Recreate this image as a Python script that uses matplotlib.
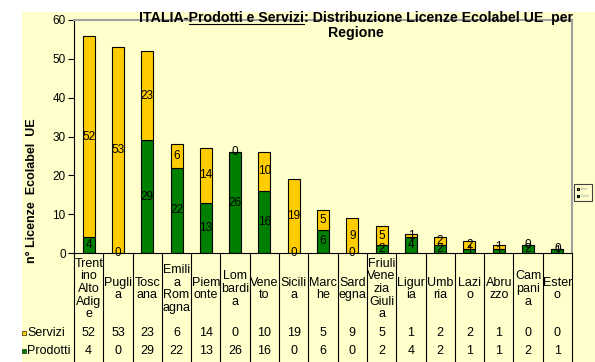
import matplotlib.pyplot as plt
from matplotlib.patches import Rectangle
from matplotlib.lines import Line2D
import numpy as np

# dati
regioni = ["Trent\nino\nAlto\nAdig\ne", "Pugli\na", "Tosc\nana", "Emili\na\nRom\nagna",
           "Piem\nonte", "Lom\nbardi\na", "Vene\nto", "Sicili\na", "Marc\nhe",
           "Sard\negna", "Friuli\nVene\nzia\nGiuli\na", "Ligur\nia", "Umb\nria",
           "Lazi\no", "Abru\nzzo", "Cam\npani\na", "Ester\no"]
servizi = [52, 53, 23, 6, 14, 0, 10, 19, 5, 9, 5, 1, 2, 2, 1, 0, 0]
prodotti = [4, 0, 29, 22, 13, 26, 16, 0, 6, 0, 2, 4, 2, 1, 1, 2, 1]
y_ticks = [0, 10, 20, 30, 40, 50, 60]

GIALLO = '#FFCC00'
VERDE = '#008000'
SFONDO = '#FFFFCC'
GRIGIO = '#A0A0A0'

plt.rcParams["font.family"] = ["Liberation Sans", "DejaVu Sans"]

W, H = 595, 362
fig = plt.figure(figsize=(W / 100, H / 100), dpi=100)
fig.patch.set_facecolor('white')

def fx(px):
    return px / W

def fy(py):
    return 1 - py / H

# area gialla del grafico
fig.patches.append(Rectangle((fx(22), 0), 1 - fx(22), fy(12), transform=fig.transFigure,
                             facecolor=SFONDO, edgecolor='none', zorder=-10))

# grafico a barre
ax = fig.add_axes([fx(74), fy(253), fx(572) - fx(74), fy(20) - fy(253)])
ax.set_facecolor(SFONDO)
x = np.arange(len(regioni))
b_prod = ax.bar(x, prodotti, width=0.41, color=VERDE, edgecolor='black', linewidth=0.8,
                label='Prodotti', zorder=2)
b_serv = ax.bar(x, servizi, bottom=prodotti, width=0.41, color=GIALLO, edgecolor='black',
                linewidth=0.8, label='Servizi', zorder=2)

for i in range(len(regioni)):
    ax.text(i, prodotti[i] / 2, str(prodotti[i]), ha='center', va='center', fontsize=8.5, zorder=3)
    ax.text(i, prodotti[i] + servizi[i] / 2, str(servizi[i]), ha='center', va='center',
            fontsize=8.5, zorder=3)

ax.set_xlim(-0.5, len(regioni) - 0.5)
ax.set_ylim(0, 60)
ax.set_yticks(y_ticks)
ax.set_xticks([])
ax.tick_params(axis='y', length=4, width=0.8, labelsize=8.5, pad=2)
ax.spines['left'].set_linewidth(0.8)
ax.spines['bottom'].set_linewidth(0.8)
for s in ['top', 'right']:
    ax.spines[s].set_color(GRIGIO)
    ax.spines[s].set_linewidth(1.5)

# legenda minuscola a destra
leg = ax.legend([b_serv, b_prod], ['Servizi', 'Prodotti'], fontsize=1.8, loc='upper left',
                bbox_to_anchor=(fx(573), fy(183)), bbox_transform=fig.transFigure,
                handlelength=0.8, handleheight=0.8, borderpad=1.0, labelspacing=1.3,
                frameon=True, fancybox=False, facecolor=SFONDO, edgecolor='#404040',
                framealpha=1)
leg.get_frame().set_linewidth(0.8)
for t in leg.get_texts():
    t.set_color('#909090')

# tabella dati sotto il grafico
tab = fig.add_axes([fx(74), 0, fx(572) - fx(74), fy(253)])
tab.set_xlim(-0.5, len(regioni) - 0.5)
tab.set_ylim(109, 0)
tab.axis('off')
for k in np.arange(len(regioni) + 1) - 0.5:
    tab.plot([k, k], [0, 109], color='black', linewidth=0.8, clip_on=False)
for i, nome in enumerate(regioni):
    tab.text(i, 36, nome, ha='center', va='center', fontsize=9, linespacing=1.08)
    tab.text(i, 80, str(servizi[i]), ha='center', va='center', fontsize=9)
    tab.text(i, 98, str(prodotti[i]), ha='center', va='center', fontsize=9)

col = 498 / len(regioni)
for nome, yy, c in [('Servizi', 80, GIALLO), ('Prodotti', 98, VERDE)]:
    tab.plot([-0.5 - 50 / col], [yy], marker='s', markersize=3.5, color=c,
             markeredgecolor='black', markeredgewidth=0.4, clip_on=False)
    tab.text(-0.5 - 47 / col, yy, nome, ha='left', va='center', fontsize=9)

# etichetta asse y
fig.text(fx(32), fy(191), "n° Licenze  Ecolabel  UE", rotation=90, ha='center', va='center',
         fontsize=9, fontweight='bold')

# titolo con sottolineatura parziale
FT = 10.2
riga1 = "ITALIA-Prodotti e Servizi: Distribuzione Licenze Ecolabel UE  per"
t1 = fig.text(fx(356), fy(18), riga1, ha='center', va='center', fontsize=FT, fontweight='bold')
fig.text(fx(356), fy(33), "Regione", ha='center', va='center', fontsize=FT, fontweight='bold')

r = fig.canvas.get_renderer()
bb = t1.get_window_extent(r)
tmp = fig.text(0, 0, "ITALIA-", fontsize=FT, fontweight='bold')
w1 = tmp.get_window_extent(r).width
tmp.set_text("ITALIA-Prodotti e Servizi")
w2 = tmp.get_window_extent(r).width
tmp.remove()
yl = bb.y0 + 1.5
fig.add_artist(Line2D([(bb.x0 + w1) / W, (bb.x0 + w2) / W], [yl / H, yl / H],
                      color='black', linewidth=0.8, transform=fig.transFigure))

fig.savefig('out.png', dpi=100)
